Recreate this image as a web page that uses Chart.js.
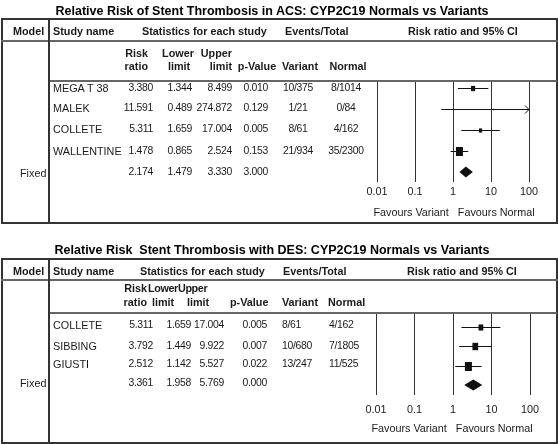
<!DOCTYPE html>
<html>
<head>
<meta charset="utf-8">
<script src="https://cdn.jsdelivr.net/npm/chart.js@4.4.0/dist/chart.umd.min.js"></script>
<style>
  html, body { margin:0; padding:0; background:#fff; }
  #page { position:relative; width:558px; height:444px; overflow:hidden; font-family:"Liberation Sans", Arial, sans-serif; color:#1a1a1a; }
  .t { position:absolute; white-space:pre; font-size:10.8px; line-height:14px; }
  .n { font-size:10.4px; letter-spacing:-0.3px; }
  .b { font-weight:bold; font-size:10.8px; }
  .bn { letter-spacing:-0.4px; }
  .ttl { font-weight:bold; font-size:12.5px; color:#000; }
  .box { position:absolute; box-sizing:border-box; border:2px solid #333; }
  .ln { position:absolute; background:#666; }
  .sep { position:absolute; background:#333; }
  canvas { position:absolute; }
</style>
</head>
<body>
<div id="page">
  <canvas id="acs"></canvas>
  <canvas id="des"></canvas>
</div>
<script>
// ACS panel
const acsStudies = ['MEGA T 38', 'MALEK', 'COLLETE', 'WALLENTINE'];
const acsRR = [3.380, 11.591, 5.311, 1.478];
const acsLower = [1.344, 0.489, 1.659, 0.865];
const acsUpper = [8.499, 274.872, 17.004, 2.524];
const acsP = [0.010, 0.129, 0.005, 0.153];
const acsVariant = ['10/375', '1/21', '8/61', '21/934'];
const acsNormal = ['8/1014', '0/84', '4/162', '35/2300'];
const acsFixed = [2.174, 1.479, 3.330, 3.000];

// DES panel
const desStudies = ['COLLETE', 'SIBBING', 'GIUSTI'];
const desRR = [5.311, 3.792, 2.512];
const desLower = [1.659, 1.449, 1.142];
const desUpper = [17.004, 9.922, 5.527];
const desP = [0.005, 0.007, 0.022];
const desVariant = ['8/61', '10/680', '13/247'];
const desNormal = ['4/162', '7/1805', '11/525'];
const desFixed = [3.361, 1.958, 5.769, 0.000];

const tickValues = [0.01, 0.1, 1, 10, 100];
const tickLabels = ['0.01', '0.1', '1', '10', '100'];

const page = document.getElementById('page');
const FONT = '"Liberation Sans", Arial, sans-serif';

function t(x, y, text, align, cls) {
  const d = document.createElement('div');
  d.className = 't' + (cls ? ' ' + cls : '');
  d.textContent = text;
  d.style.left = x + 'px';
  d.style.top = (y - 7) + 'px';
  if (align === 'r') d.style.transform = 'translateX(-100%)';
  if (align === 'c') d.style.transform = 'translateX(-50%)';
  page.appendChild(d);
}
function el(cls, l, tp, w, h) {
  const d = document.createElement('div');
  d.className = cls;
  Object.assign(d.style, {left:l+'px', top:tp+'px', width:w+'px', height:h+'px'});
  page.appendChild(d);
}

// ---- frames
el('box', 1, 18, 557, 206);
el('ln', 1, 40, 557, 2);
el('ln', 49, 80, 508, 2);
el('sep', 48, 18, 2, 206);

el('box', 1, 258, 557, 186);
el('ln', 1, 279, 557, 2);
el('ln', 49, 312, 508, 2);
el('sep', 48, 258, 2, 186);

// ---- top panel text
t(272, 11, 'Relative Risk of Stent Thrombosis in ACS: CYP2C19 Normals vs Variants', 'c', 'ttl');
t(13, 31, 'Model', 'l', 'b');
t(53, 31, 'Study name', 'l', 'b');
t(142, 31, 'Statistics for each study', 'l', 'b');
t(285, 31, 'Events/Total', 'l', 'b');
t(408, 31, 'Risk ratio and 95% CI', 'l', 'b');
t(148, 53, 'Risk', 'r', 'b'); t(178, 53, 'Lower', 'c', 'b'); t(232, 53, 'Upper', 'r', 'b');
t(148, 66, 'ratio', 'r', 'b'); t(179, 66, 'limit', 'c', 'b'); t(232, 66, 'limit', 'r', 'b');
t(257, 66, 'p-Value', 'c', 'b'); t(300, 66, 'Variant', 'c', 'b'); t(348, 66, 'Normal', 'c', 'b');
const acsRowY = [88, 108, 129, 151, 172];
acsStudies.forEach((s, i) => {
  const y = acsRowY[i];
  t(53, y, s);
  t(153, y, acsRR[i].toFixed(3), 'r', 'n'); t(192, y, acsLower[i].toFixed(3), 'r', 'n');
  t(232, y, acsUpper[i].toFixed(3), 'r', 'n'); t(268, y, acsP[i].toFixed(3), 'r', 'n');
  t(298, y, acsVariant[i], 'c', 'n'); t(346, y, acsNormal[i], 'c', 'n');
});
t(20, 173, 'Fixed');
t(153, 172, acsFixed[0].toFixed(3), 'r', 'n'); t(192, 172, acsFixed[1].toFixed(3), 'r', 'n');
t(232, 172, acsFixed[2].toFixed(3), 'r', 'n'); t(268, 172, acsFixed[3].toFixed(3), 'r', 'n');
t(454, 212, 'Favours Variant   Favours Normal', 'c');

// ---- bottom panel text
t(272, 250, 'Relative Risk  Stent Thrombosis with DES: CYP2C19 Normals vs Variants', 'c', 'ttl');
t(13, 271, 'Model', 'l', 'b');
t(53, 271, 'Study name', 'l', 'b');
t(140, 271, 'Statistics for each study', 'l', 'b');
t(283, 271, 'Events/Total', 'l', 'b');
t(407, 271, 'Risk ratio and 95% CI', 'l', 'b');
t(147, 288, 'Risk', 'r', 'b'); t(148, 288, 'Lower', 'l', 'b bn'); t(178, 288, 'Upper', 'l', 'b bn');
t(147, 302, 'ratio', 'r', 'b'); t(152, 302, 'limit', 'l', 'b'); t(187, 302, 'limit', 'l', 'b');
t(230, 302, 'p-Value', 'l', 'b'); t(282, 302, 'Variant', 'l', 'b'); t(328, 302, 'Normal', 'l', 'b');
const desRowY = [325, 346, 364, 383];
desStudies.forEach((s, i) => {
  const y = desRowY[i];
  t(53, y, s);
  t(153, y, desRR[i].toFixed(3), 'r', 'n'); t(191, y, desLower[i].toFixed(3), 'r', 'n');
  t(224, y, desUpper[i].toFixed(3), 'r', 'n'); t(267, y, desP[i].toFixed(3), 'r', 'n');
  t(282, y, desVariant[i], 'l', 'n'); t(329, y, desNormal[i], 'l', 'n');
});
t(20, 383, 'Fixed');
t(153, 383, desFixed[0].toFixed(3), 'r', 'n'); t(191, 383, desFixed[1].toFixed(3), 'r', 'n');
t(224, 383, desFixed[2].toFixed(3), 'r', 'n'); t(267, 383, desFixed[3].toFixed(3), 'r', 'n');
t(452, 428, 'Favours Variant   Favours Normal', 'c');

// ---- forest plots
function forest(id, box, rr, lo, hi, fixed, yMin, yMax, labelPad) {
  const cv = document.getElementById(id);
  cv.width = box.w + 40; cv.height = box.h + 20;
  cv.style.left = (box.x - 20) + 'px'; cv.style.top = box.y + 'px';
  // square area follows inverse variance weight from the CI
  const wt = rr.map((v, i) => { const se = Math.log(hi[i] / lo[i]) / 3.92; return 1 / (se * se); });
  const wMax = Math.max(...wt);
  const marks = {
    id: 'marks',
    afterDatasetsDraw(chart) {
      const {ctx, scales:{x, y}} = chart;
      const xMax = x.getPixelForValue(x.max);
      ctx.save();
      ctx.strokeStyle = '#111'; ctx.fillStyle = '#111'; ctx.lineWidth = 1;
      rr.forEach((v, i) => {
        const yc = Math.round(y.getPixelForValue(i)) + 0.5;
        const x1 = x.getPixelForValue(lo[i]);
        const x2 = Math.min(x.getPixelForValue(hi[i]), xMax);
        ctx.beginPath(); ctx.moveTo(x1, yc); ctx.lineTo(x2, yc); ctx.stroke();
        if (hi[i] > x.max) {
          ctx.beginPath(); ctx.moveTo(x2 - 4, yc - 4); ctx.lineTo(x2, yc); ctx.lineTo(x2 - 4, yc + 4); ctx.stroke();
        }
        const k = Math.sqrt(wt[i] / wMax), w = 7 * k, h = 9 * k;
        const xc = x.getPixelForValue(v);
        ctx.fillRect(xc - w / 2, yc - h / 2, w, h);
      });
      const yd = y.getPixelForValue(rr.length);
      const xc = x.getPixelForValue(fixed[0]);
      ctx.beginPath();
      ctx.moveTo(x.getPixelForValue(fixed[1]), yd); ctx.lineTo(xc, yd - 5.5);
      ctx.lineTo(x.getPixelForValue(fixed[2]), yd); ctx.lineTo(xc, yd + 5.5);
      ctx.closePath(); ctx.fill();
      ctx.restore();
    }
  };
  return new Chart(cv, {
    type: 'scatter',
    data: { datasets: [
      { data: rr.map((v, i) => ({x: v, y: i})), pointRadius: 0 },
      { data: [{x: fixed[0], y: rr.length}], pointRadius: 0 }
    ]},
    options: {
      animation: false, responsive: false, events: [],
      layout: { padding: { left: 20, right: 20, top: 0, bottom: 0 } },
      plugins: { legend: { display: false }, tooltip: { enabled: false } },
      scales: {
        x: {
          type: 'logarithmic', min: 0.01, max: 100,
          afterBuildTicks: s => { s.ticks = tickValues.map(v => ({value: v})); },
          afterFit: s => { s.height = 20; },
          ticks: { callback: (v, i) => tickLabels[i], color: '#1a1a1a', font: {family: FONT, size: 10.8},
                   padding: labelPad, maxRotation: 0, autoSkip: false },
          grid: { color: '#333', lineWidth: 1, drawTicks: false },
          border: { display: false }
        },
        y: { type: 'linear', min: yMin, max: yMax, reverse: true, display: false }
      }
    },
    plugins: [marks]
  });
}

forest('acs', {x: 377, y: 82, w: 152, h: 100}, acsRR, acsLower, acsUpper, acsFixed, -0.286, 4.476, 4);
forest('des', {x: 376, y: 314, w: 154, h: 81}, desRR, desLower, desUpper, desFixed, -0.6725, 3.517, 9);
</script>
</body>
</html>
